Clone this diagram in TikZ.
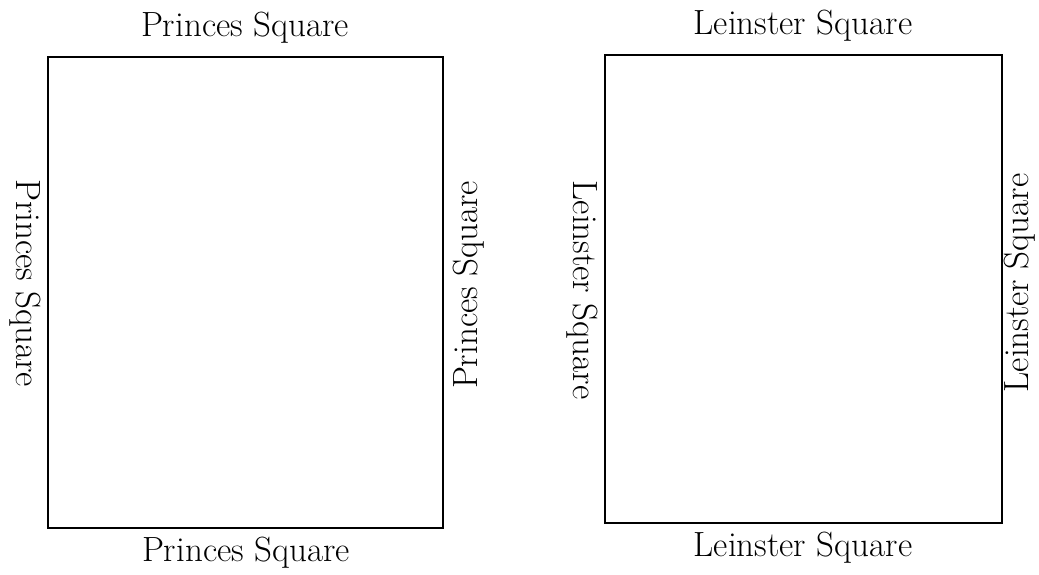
\documentclass[tikz,border=0pt]{standalone}
\usetikzlibrary{positioning}
\begin{document}
\begin{tikzpicture}[x=0.5pt, y=-0.5pt,
    square/.style={draw, line width=1pt, inner sep=0pt},
    street/.style={font=\fontsize{17.5}{21}\selectfont, inner sep=0pt}]
    \useasboundingbox (0, 0) rectangle (1039, 574);

    % Princes Square
    \node[square, minimum width=197.5pt, minimum height=235.5pt] (princes) at (245.5, 292.5) {};
    \node[street] (princesN) at (245, 28) {Princes Square};
    \node[street] (princesS) at (246, 553) {Princes Square};
    \node[street, rotate=-90] (princesW) at (25, 283) {Princes Square};
    \node[street, rotate=90] (princesE) at (469, 285) {Princes Square};

    % Leinster Square
    \node[square, minimum width=198.5pt, minimum height=234pt] (leinster) at (803.5, 289) {};
    \node[street] (leinsterN) at (803, 26) {Leinster Square};
    \node[street] (leinsterS) at (803, 548) {Leinster Square};
    \node[street, rotate=-90] (leinsterW) at (582, 290) {Leinster Square};
    \node[street, rotate=90] (leinsterE) at (1020, 283) {Leinster Square};
\end{tikzpicture}
\end{document}
